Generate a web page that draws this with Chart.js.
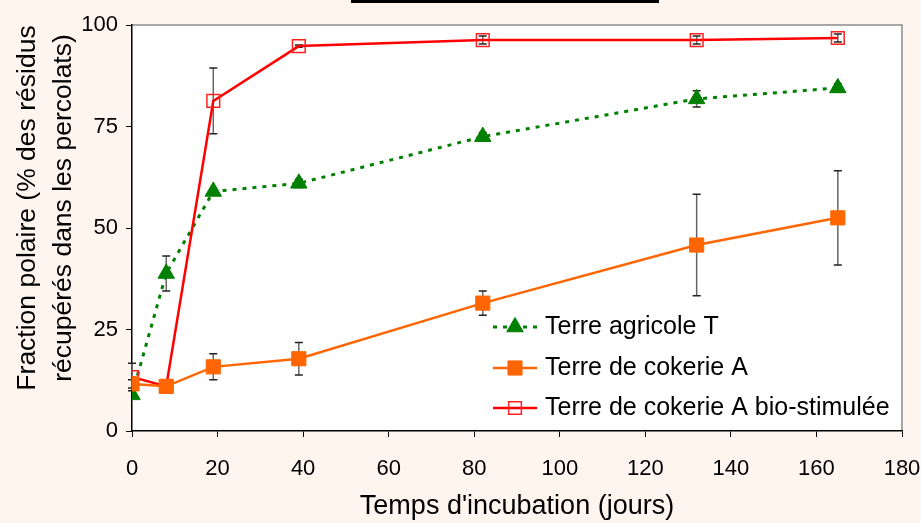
<!DOCTYPE html>
<html>
<head>
<meta charset="utf-8">
<script src="https://cdn.jsdelivr.net/npm/chart.js@4/dist/chart.umd.min.js"></script>
<style>
  html, body { margin: 0; padding: 0; background: #fef5ef; }
  #wrap { position: relative; width: 921px; height: 523px; }
  #topbar { position: absolute; left: 351px; top: 0; width: 308px; height: 3px; background: #000; }
</style>
</head>
<body>
<div id="wrap">
  <canvas id="chart"></canvas>
  <div id="topbar"></div>
</div>
<script>
// ─── Data ─────────────────────────────────────────────────────────────────────
const days = [0, 8, 19, 39, 82, 132, 165];
const xTicks = [0, 20, 40, 60, 80, 100, 120, 140, 160, 180];
const yTicks = [0, 25, 50, 75, 100];

const agricole    = [8.9, 38.8, 59, 61, 72.5, 81.8, 84.5];
const agricoleErr = [0, 4.3, 0.5, 1, 1, 2, 1];
const cokerie     = [11.6, 11, 15.8, 17.8, 31.5, 45.8, 52.5];
const cokerieErr  = [1, 1.5, 3.2, 4, 3, 12.5, 11.6];
const bio         = [13.3, 11, 81.3, 94.8, 96.3, 96.3, 96.8];
const bioErr      = [3.4, 0.5, 8.1, 0.3, 1, 1, 1];

const seriesNames = ['Terre agricole T', 'Terre de cokerie A', 'Terre de cokerie A bio-stimulée'];
const yTitle = ['Fraction polaire (% des résidus', 'récupérés dans les percolats)'];
const xTitle = "Temps d'incubation (jours)";

const FONT = "'Liberation Sans', Arial, sans-serif";
const toPoints = vals => days.map((d, i) => ({ x: d, y: vals[i] }));

// ─── Plot frame (white area + grey top/right border) ─────────────────────────
const plotFrame = {
  id: 'plotFrame',
  beforeDraw(chart) {
    const { ctx, chartArea: a } = chart;
    ctx.save();
    ctx.fillStyle = '#fff';
    ctx.fillRect(a.left, a.top, a.right - a.left, a.bottom - a.top);
    ctx.strokeStyle = '#8c8c8c';
    ctx.lineWidth = 1.5;
    ctx.beginPath();
    ctx.moveTo(a.left, a.top);
    ctx.lineTo(a.right, a.top);
    ctx.lineTo(a.right, a.bottom);
    ctx.stroke();
    ctx.restore();
  }
};

// ─── Y title (two rotated lines, centred a bit above the plot middle) ───────
const yTitlePlugin = {
  id: 'yTitlePlugin',
  afterDraw(chart) {
    const { ctx } = chart;
    ctx.save();
    ctx.fillStyle = '#000';
    ctx.font = '26.5px ' + FONT;
    ctx.textAlign = 'center';
    ctx.textBaseline = 'middle';
    yTitle.forEach((line, i) => {
      ctx.save();
      ctx.translate(28 + i * 36, 208);
      ctx.rotate(-Math.PI / 2);
      ctx.fillText(line, 0, 0);
      ctx.restore();
    });
    ctx.restore();
  }
};

// ─── Error bars ──────────────────────────────────────────────────────────────
const errorBars = {
  id: 'errorBars',
  beforeDatasetsDraw(chart) {
    const { ctx } = chart;
    const yScale = chart.scales.y;
    ctx.save();
    chart.data.datasets.forEach((ds, di) => {
      const meta = chart.getDatasetMeta(di);
      ds.errors.forEach((e, i) => {
        if (!e) return;
        const pt = meta.data[i];
        const v = ds.data[i].y;
        const yTop = yScale.getPixelForValue(v + e);
        const yBot = yScale.getPixelForValue(v - e);
        ctx.strokeStyle = '#666';
        ctx.lineWidth = 1.5;
        ctx.beginPath();
        ctx.moveTo(pt.x, yTop);
        ctx.lineTo(pt.x, yBot);
        ctx.stroke();
        ctx.strokeStyle = '#222';
        ctx.beginPath();
        ctx.moveTo(pt.x - 4, yTop); ctx.lineTo(pt.x + 4, yTop);
        ctx.moveTo(pt.x - 4, yBot); ctx.lineTo(pt.x + 4, yBot);
        ctx.stroke();
      });
    });
    ctx.restore();
  }
};

// ─── Legend with line + marker samples ───────────────────────────────────────
function drawMarker(ctx, style, x, y, r, fill, stroke, lw) {
  ctx.beginPath();
  if (style === 'triangle') {
    ctx.moveTo(x, y - r);
    ctx.lineTo(x + r * 0.866, y + r * 0.5);
    ctx.lineTo(x - r * 0.866, y + r * 0.5);
    ctx.closePath();
  } else {
    const s = Math.SQRT1_2 * r;
    ctx.rect(x - s, y - s, 2 * s, 2 * s);
  }
  if (fill && fill !== 'transparent') { ctx.fillStyle = fill; ctx.fill(); }
  ctx.lineWidth = lw;
  ctx.strokeStyle = stroke;
  ctx.stroke();
}

const sampleLegend = {
  id: 'sampleLegend',
  afterDatasetsDraw(chart) {
    const { ctx, chartArea: a } = chart;
    const x0 = a.left + 361, x1 = a.left + 405, tx = a.left + 413;
    const rows = [a.top + 302, a.top + 343, a.top + 383];
    const order = [2, 0, 1]; // agricole, cokerie, bio
    ctx.save();
    order.forEach((di, k) => {
      const ds = chart.data.datasets[di];
      const y = rows[k];
      ctx.strokeStyle = ds.borderColor;
      ctx.lineWidth = ds.borderWidth;
      ctx.setLineDash(ds.borderDash || []);
      ctx.beginPath();
      ctx.moveTo(x0, y);
      ctx.lineTo(x1, y);
      ctx.stroke();
      ctx.setLineDash([]);
      drawMarker(ctx, ds.pointStyle, (x0 + x1) / 2, y, ds.pointRadius,
                 ds.pointBackgroundColor, ds.pointBorderColor, ds.pointBorderWidth);
      ctx.fillStyle = '#000';
      ctx.font = '25px ' + FONT;
      ctx.textBaseline = 'middle';
      ctx.fillText(ds.label, tx, y);
    });
    ctx.restore();
  }
};

new Chart(document.getElementById('chart'), {
  type: 'line',
  data: {
    datasets: [
      {
        label: seriesNames[1], data: toPoints(cokerie), errors: cokerieErr, order: 1,
        borderColor: '#ff6600', borderWidth: 2.5,
        pointStyle: 'rect', pointRadius: 10,
        pointBackgroundColor: '#ff6600', pointBorderColor: '#ff6600', pointBorderWidth: 1
      },
      {
        label: seriesNames[2], data: toPoints(bio), errors: bioErr, order: 2,
        borderColor: '#ff0000', borderWidth: 2.5,
        pointStyle: 'rect', pointRadius: 9,
        pointBackgroundColor: 'transparent', pointBorderColor: '#ff2020', pointBorderWidth: 1.5
      },
      {
        label: seriesNames[0], data: toPoints(agricole), errors: agricoleErr, order: 3,
        borderColor: '#008000', borderWidth: 3, borderDash: [4, 6],
        pointStyle: 'triangle', pointRadius: 9.5,
        pointBackgroundColor: '#008000', pointBorderColor: '#008000', pointBorderWidth: 1
      }
    ]
  },
  options: {
    responsive: true,
    maintainAspectRatio: false,
    animation: false,
    layout: { padding: { top: 25, right: 0, left: 0, bottom: 0 } },
    plugins: { legend: { display: false }, tooltip: { enabled: false } },
    elements: { line: { tension: 0, fill: false } },
    scales: {
      x: {
        type: 'linear', min: 0, max: 180,
        afterBuildTicks: s => { s.ticks = xTicks.map(v => ({ value: v })); },
        afterFit: s => { s.height = 92; s.paddingRight = 19; s.paddingLeft = 0; },
        border: { color: '#000', width: 1.5 },
        grid: { drawOnChartArea: false, drawTicks: true, tickLength: 6, color: '#000' },
        ticks: { color: '#000', padding: 19, maxRotation: 0, font: { family: FONT, size: 22 } },
        title: {
          display: true, text: xTitle, color: '#000',
          padding: { top: 0, bottom: 0 }, font: { family: FONT, size: 27 }
        }
      },
      y: {
        type: 'linear', min: 0, max: 100,
        afterBuildTicks: s => { s.ticks = yTicks.map(v => ({ value: v })); },
        afterFit: s => { s.width = 132; },
        border: { color: '#000', width: 1.5 },
        grid: { drawOnChartArea: false, drawTicks: true, tickLength: 6, color: '#000' },
        ticks: { color: '#000', padding: 8, font: { family: FONT, size: 22 } },
        title: { display: false }
      }
    }
  },
  plugins: [plotFrame, errorBars, sampleLegend, yTitlePlugin]
});
</script>
</body>
</html>
